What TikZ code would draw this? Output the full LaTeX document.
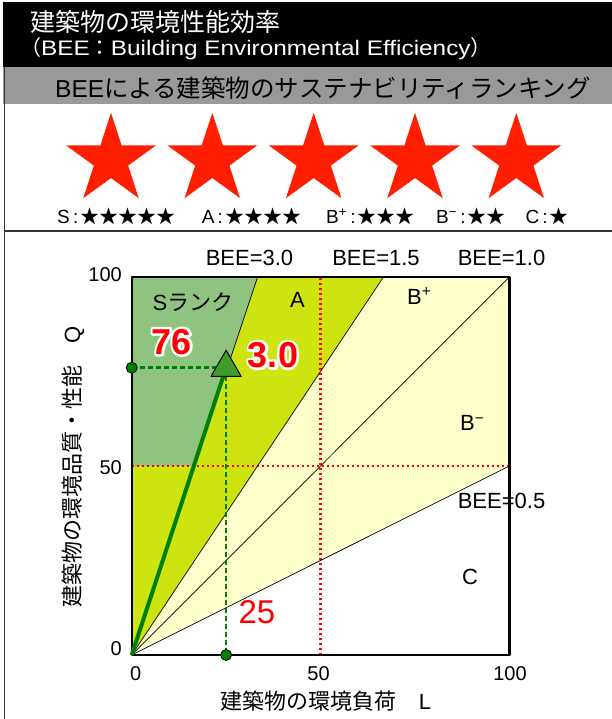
\documentclass[tikz,border=0pt]{standalone}
\usepackage{fontspec}
\setmainfont{Liberation Sans}
\newfontfamily\jp{Noto Sans CJK JP}
\newfontfamily\widesans[FakeStretch=1.16]{Liberation Sans}
\usetikzlibrary{shapes.geometric}
\definecolor{sgreen}{RGB}{143,196,128}
\definecolor{ayel}{RGB}{205,228,16}
\definecolor{lyel}{RGB}{255,255,204}
\definecolor{starred}{RGB}{255,30,0}
\definecolor{dkgreen}{RGB}{0,128,0}
\definecolor{trigreen}{RGB}{64,156,44}
\definecolor{bandgray}{RGB}{153,153,153}
\newcommand\fs[1]{\fontsize{#1}{#1}\selectfont}
\newcommand\outl[1]{\rlap{\color{white}\special{pdf:literal direct 1 j 1 J 5 w 1 Tr}#1\special{pdf:literal direct 0 Tr}}#1}
\tikzset{
  bigstar/.style={star, star points=5, star point ratio=2.618, minimum size=94.4pt, inner sep=0pt, fill=starred},
  legendtxt/.style={anchor=west, inner sep=0pt, font=\fs{19}},
  lbl/.style={inner sep=0pt, font=\fs{22}},
  ticklbl/.style={inner sep=0pt, font=\fs{20}},
  bignum/.style={inner sep=0pt, font=\bfseries\fs{36}, text=red},
  reddot/.style={draw=red, line width=2.4pt, dash pattern=on 2.4pt off 2.6pt},
  bline/.style={draw=black, line width=0.7pt},
  gdash/.style={draw=dkgreen, line width=2.5pt, dash pattern=on 5pt off 3pt},
  tri/.style={regular polygon, regular polygon sides=3, minimum size=35pt, inner sep=0pt, fill=trigreen, draw=black, line width=1pt},
  gdot/.style={circle, minimum size=11pt, inner sep=0pt, fill=dkgreen, draw=black, line width=0.8pt}
}
\begin{document}
\begin{tikzpicture}[x=1pt,y=-1pt,line join=round]
\useasboundingbox (0,0) rectangle (612,719);
\fill[white] (0,0) rectangle (612,719);
% header
\fill[black] (3,2) rectangle (612,67);
\fill[bandgray] (3,67) rectangle (612,104.5);
\draw[line width=1.8pt, black!80] (4.5,67) -- (4.5,719);
\draw[line width=2pt, black!80] (4.5,231) -- (612,231);
\node[anchor=west, text=white, font=\jp\fs{25}, inner sep=0pt] (title1) at (30,22) {建築物の環境性能効率};
\node[anchor=west, text=white, font=\widesans\fs{21}, inner sep=0pt] (title2) at (20,49) {{\jp （}BEE{\jp ：}Building Environmental Efficiency{\jp ）}};
\node[anchor=west, font=\fs{24.5}, inner sep=0pt] (bandtxt) at (55,88) {BEE{\jp による建築物のサステナビリティランキング}};
% stars
\foreach \i/\x in {1/111,2/212.3,3/313.7,4/415,5/516.3}
  \node[bigstar] (star\i) at (\x,160) {};
\node[legendtxt] (lgS) at (57,216) {S\,:\hspace{2pt}{\jp ★★★★★}};
\node[legendtxt] (lgA) at (201.7,216) {A\,:\hspace{2pt}{\jp ★★★★}};
\node[legendtxt] (lgBp) at (326,216) {B\textsuperscript{+}\,:\hspace{2pt}{\jp ★★★}};
\node[legendtxt] (lgBm) at (436,216) {B\textsuperscript{−}\,:\hspace{2pt}{\jp ★★}};
\node[legendtxt] (lgC) at (525.3,216) {C\,:\hspace{2pt}{\jp ★}};
% plot
\begin{scope}[shift={(131.7,655)}, x=3.776pt, y=3.78pt]
  \coordinate (O) at (0,0);
  \coordinate (Lmid) at (50,0);
  \coordinate (Ltop) at (50,100);
  \coordinate (Qmid) at (0,50);
  \coordinate (Qright) at (100,50);
  \coordinate (b3) at (33.333,100);
  \coordinate (b15) at (66.667,100);
  \coordinate (b1) at (100,100);
  \coordinate (b05) at (100,50);
  \coordinate (P) at (25,76);
  \coordinate (Qp) at (0,76);
  \coordinate (Lp) at (25,0);
  \fill[sgreen] (0,50) -- (0,100) -- (b3) -- (16.667,50) -- cycle;
  \fill[ayel] (O) -- (0,50) -- (16.667,50) -- (b3) -- (b15) -- cycle;
  \fill[lyel] (O) -- (b15) -- (b1) -- (b05) -- cycle;
  \draw[reddot] (Lmid) -- (Ltop);
  \draw[reddot] (Qmid) -- (Qright);
  \draw[bline] (O) -- (b3);
  \draw[bline] (O) -- (b15);
  \draw[bline] (O) -- (b1);
  \draw[bline] (O) -- (b05);
\end{scope}
% plot labels
\node[lbl] (bee30) at (249.5,258) {BEE=3.0};
\node[lbl] (bee15) at (376,258) {BEE=1.5};
\node[lbl] (bee10) at (501.5,258) {BEE=1.0};
\node[lbl] (bee05) at (501.5,501) {BEE=0.5};
\node[lbl] (rankS) at (193,301.7) {S{\jp ランク}};
\node[lbl] (rankA) at (297.5,300) {A};
\node[lbl, anchor=west] (rankBp) at (407,296) {B\textsuperscript{+}};
\node[lbl, anchor=west] (rankBm) at (460,423) {B\textsuperscript{−}};
\node[lbl] (rankC) at (470,577) {C};
\node[ticklbl, anchor=east] (q100) at (122,275) {100};
\node[ticklbl, anchor=east] (q50) at (122,467.7) {50};
\node[ticklbl, anchor=east] (q0) at (122,649) {0};
\node[ticklbl] (l0) at (135.7,674) {0};
\node[ticklbl] (l50) at (318.5,674) {50};
\node[ticklbl] (l100) at (510,674) {100};
\node[inner sep=0pt, font=\jp\fs{22}, rotate=90] (ytitle) at (73,466.5) {建築物の環境品質・性能　{\rmfamily Q}};
\node[inner sep=0pt, font=\jp\fs{22}] (xtitle) at (326,701) {建築物の環境負荷　{\rmfamily L}};
% frame
\draw[line width=2.4pt, black] (131.7,277) rectangle (509.3,655);
% green marker
\draw[gdash] (Qp) -- (P);
\draw[gdash] (P) -- (Lp);
\draw[dkgreen, line width=4pt] (O) -- (P);
\node[tri] (triP) at (P) {};
\node[gdot] (dotQ) at (Qp) {};
\node[gdot] (dotL) at (Lp) {};
\node[bignum] (n76) at (171.5,341.7) {\outl{76}};
\node[bignum] (n30) at (273,355) {\outl{3.0}};
\node[inner sep=0pt, font=\fs{33}, text=red] (n25) at (257,612) {25};
\end{tikzpicture}
\end{document}
